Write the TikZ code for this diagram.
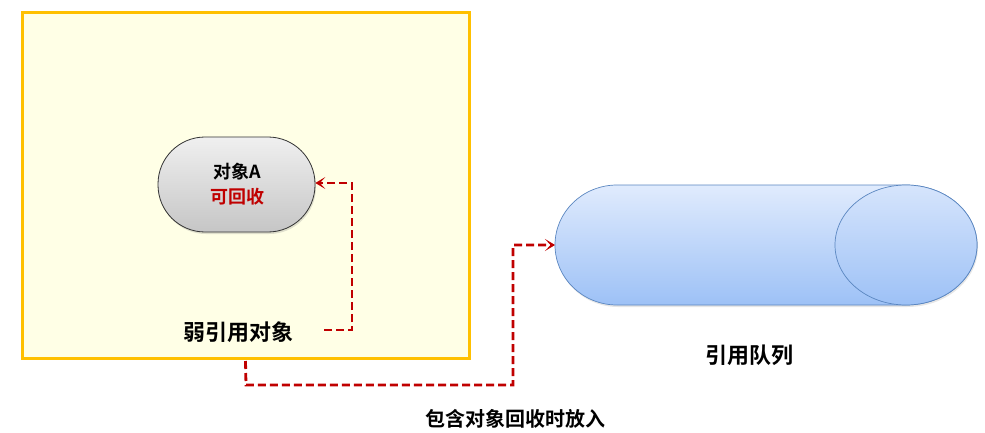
\documentclass[tikz,border=0pt]{standalone}
\usepackage{fontspec}
\newfontfamily\cjk{Noto Sans CJK SC Bold}
\usetikzlibrary{arrows.meta,shadows}
\definecolor{boxborder}{HTML}{FFC000}
\definecolor{boxfill}{HTML}{FFFFE6}
\definecolor{linkred}{HTML}{C00000}
\definecolor{qborder}{HTML}{5A86C0}
\definecolor{qtop}{HTML}{E0EBFD}
\definecolor{qbot}{HTML}{9DC1F6}
\tikzset{
  label text/.style={font=\cjk\fontsize{22}{24}\selectfont, text=black, inner sep=0pt},
  link/.style={draw=linkred, line width=2.8pt, dash pattern=on 8pt off 4pt,
    -{Stealth[length=10pt,width=12pt,inset=5.5pt]}},
  objbox/.style={draw=black!80, line width=0.8pt, rounded corners=47pt,
    top color=gray!12, bottom color=gray!45, minimum width=157pt, minimum height=95pt,
    drop shadow={opacity=0.25, shadow xshift=1pt, shadow yshift=-2pt}},
  qshape/.style={draw=qborder, line width=0.7pt, top color=qtop, bottom color=qbot},
}
\begin{document}
\begin{tikzpicture}[x=1pt,y=-1pt]
\useasboundingbox (0,0) rectangle (985,433);
% container
\node[draw=boxborder, fill=boxfill, line width=3pt, minimum width=447pt, minimum height=345pt,
  inner sep=0pt] (box) at (245.5,185.5) {};
% object A
\node[objbox, inner sep=0pt] (objA) at (236.5,184.5) {};
\node[font=\cjk\fontsize{18}{20}\selectfont, inner sep=0pt] (objAname) at (237,172) {对象A};
\node[font=\cjk\fontsize{18}{20}\selectfont, text=linkred, inner sep=0pt] (objAstate) at (237,197) {可回收};
% label
\node[label text] (weak) at (238,332) {弱引用对象};
% queue cylinder
\path[qshape, drop shadow={opacity=0.2, shadow xshift=1pt, shadow yshift=-2pt}]
  (617,185) -- (906,185) arc[start angle=-90, end angle=90, x radius=71, y radius=60]
  -- (617,305) arc[start angle=90, end angle=270, x radius=62, y radius=60] -- cycle;
\path[qshape, top color=qtop!85!qbot]
  (906,245) ellipse[x radius=71, y radius=60];
\coordinate (queue) at (555,245);
\node[label text] (qlabel) at (749,355) {引用队列};
\node[label text, font=\cjk\fontsize{20}{22}\selectfont] (putlabel) at (515,419) {包含对象回收时放入};
% connectors
\coordinate (weakstart) at (324,330);
\draw[link] (weakstart) -- (352,330) |- (objA.east |- 0,183);
\draw[link] (box.south) ++(0,1.5) coordinate (boxout) (boxout) -- (246,385) -- (513,385) |- (queue);
\end{tikzpicture}
\end{document}
